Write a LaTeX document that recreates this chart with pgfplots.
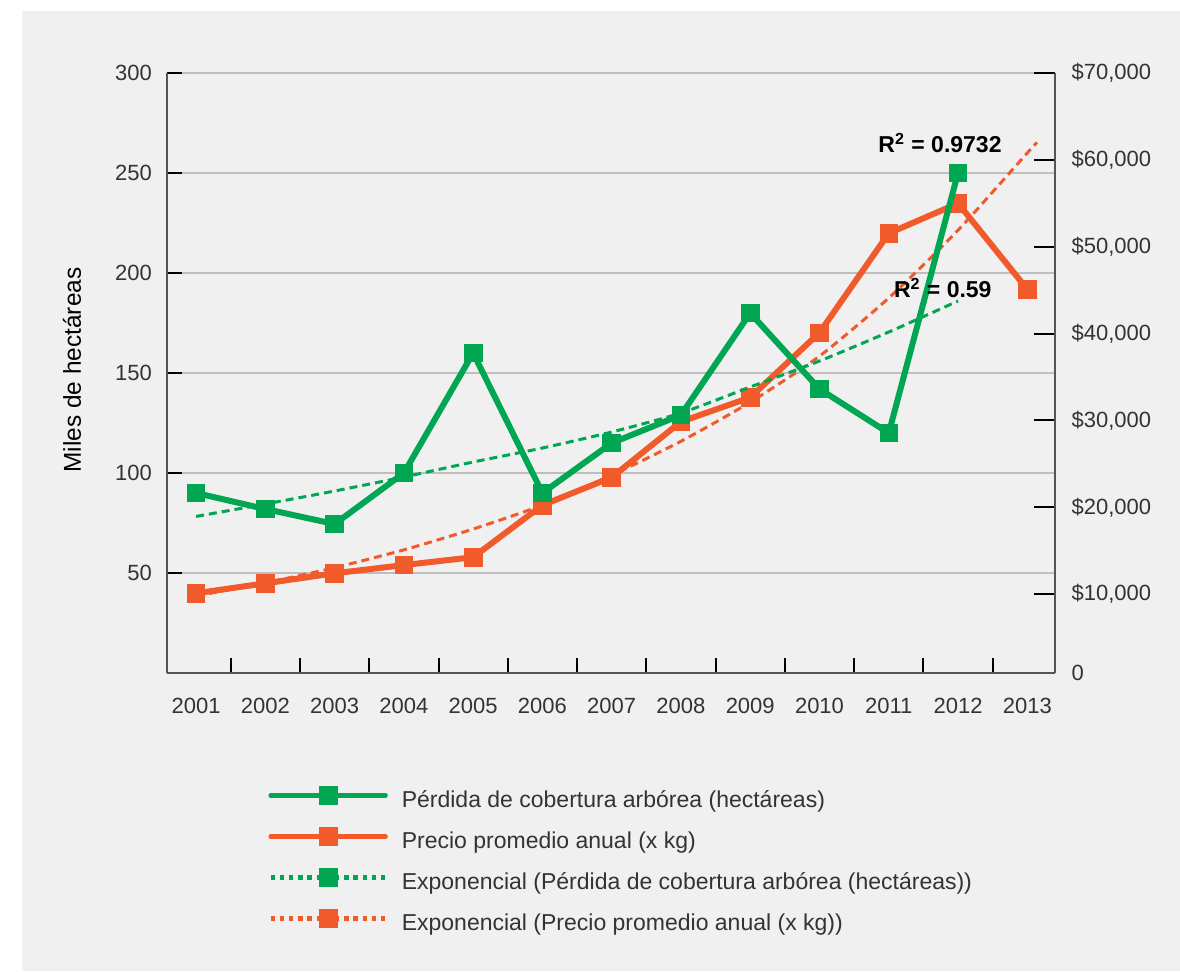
\documentclass[border=0pt]{standalone}
\usepackage{fontspec}
\setmainfont{Liberation Sans}
\usepackage{pgfplots}
\pgfplotsset{compat=1.18}

\definecolor{bg}{HTML}{F0F0F0}
\definecolor{grn}{HTML}{00A651}
\definecolor{org}{HTML}{F15A2B}
\definecolor{gridc}{HTML}{BEBEBE}
\definecolor{axc}{HTML}{555555}
\definecolor{txt}{HTML}{333333}

\pgfplotsset{
  base/.style={
    scale only axis, width=444pt, height=300pt,
    at={(83.5pt,-336.5pt)}, anchor=south west,
    xmin=0.58, xmax=13.4,
    tick label style={font=\fontsize{11}{13}\selectfont, text=txt},
    /pgf/number format/assume math mode=true,
    tick align=inside,
    tick style={black, line width=1pt},
    axis line style={axc, line width=1pt},
  },
  sq/.style={mark=square*, mark size=4.4pt, mark options={solid, line width=0.4pt}},
}

\begin{document}
\begin{tikzpicture}
\fill[white] (0,0) rectangle (590pt,-485.5pt);
\fill[bg] (11pt,-5.5pt) rectangle (590pt,-485.5pt);

% left axis, grid and years
\begin{axis}[base,
    ymin=0, ymax=300,
    axis x line*=bottom, axis y line*=left,
    ytick={50,100,...,300},
    ymajorgrids, grid style={gridc, line width=1pt},
    major tick length=7.5pt,
    yticklabel style={xshift=-4pt},
    xtick={1.5,2.5,...,12.5}, xticklabels={},
    extra x ticks={1,...,13},
    extra x tick labels={2001,2002,2003,2004,2005,2006,2007,2008,2009,2010,2011,2012,2013},
    extra x tick style={major tick length=0pt, xticklabel style={yshift=-8.8pt}},
    ylabel={Miles de hectáreas},
    ylabel style={at={(axis description cs:-0.107,0.505)}, anchor=center,
      font=\fontsize{12.2}{14}\selectfont, text=black},
  ]
  \addplot[draw=none] coordinates {(1,0)};
\end{axis}

% right axis: precio
\begin{axis}[base,
    ymin=921, ymax=70000,
    axis y line*=right, axis x line=none,
    scaled y ticks=false,
    ytick={10000,20000,...,70000},
    yticklabels={{\$10,000},{\$20,000},{\$30,000},{\$40,000},{\$50,000},{\$60,000},{\$70,000}},
    major tick length=10.5pt,
    yticklabel style={xshift=4.8pt},
    extra y ticks={921}, extra y tick labels={0},
    extra y tick style={major tick length=0pt},
  ]
  \addplot[org, line width=1.5pt, dash pattern=on 4pt off 2.5pt, smooth, tension=0.4] coordinates {
    (1,9800) (2,11300) (3,13050) (4,15100) (5,17500) (6,20250) (7,23700)
    (8,27600) (9,32100) (10,37400) (11,44100) (12,51900) (13,60800) (13.14,62000)};
  \addplot[org, line width=3pt, sq] coordinates {
    (1,10100) (2,11250) (3,12400) (4,13350) (5,14250) (6,20250) (7,23450)
    (8,29850) (9,32650) (10,40100) (11,51550) (12,55000) (13,45100)};
\end{axis}

% green series on top, legend
\begin{axis}[base,
    ymin=0, ymax=300, hide axis,
    legend image code/.code={\draw[mark repeat=2,mark phase=2] plot coordinates {(0pt,2.8pt) (28.75pt,2.8pt) (57.5pt,2.8pt)};},
    legend style={draw=none, fill=none, at={(0.107,-0.182)}, anchor=north west,
      legend cell align=left, row sep=7.3pt, column sep=7pt,
      font=\fontsize{11.5}{13}\selectfont, text=txt,
      nodes={inner sep=0pt, text height=9pt, text depth=3pt}},
  ]
  \addplot[grn, line width=1.5pt, dash pattern=on 4pt off 2.5pt, smooth, tension=0.4, forget plot] coordinates {
    (1,78.3) (2,84.5) (3,91) (4,98) (5,105.5) (6,112.5) (7,120.5)
    (8,130) (9,143) (10,156) (11,170.5) (12,186)};
  \addplot[grn, line width=3pt, sq, forget plot] coordinates {
    (1,90) (2,82) (3,74.5) (4,100) (5,160) (6,90) (7,115)
    (8,129) (9,180) (10,142) (11,120) (12,250)};

  \node[font=\bfseries\fontsize{11.5}{13}\selectfont] at (axis cs:11.74,265) {R\textsuperscript{2} = 0.9732};
  \node[font=\bfseries\fontsize{11.5}{13}\selectfont] at (axis cs:11.78,192.5) {R\textsuperscript{2} = 0.59};

  \addlegendimage{grn, line width=2.2pt, line cap=round, sq}
  \addlegendentry{Pérdida de cobertura arbórea (hectáreas)}
  \addlegendimage{org, line width=2.2pt, line cap=round, sq}
  \addlegendentry{Precio promedio anual (x kg)}
  \addlegendimage{grn, line width=2.2pt, dash pattern=on 2.2pt off 2.4pt, sq}
  \addlegendentry{Exponencial (Pérdida de cobertura arbórea (hectáreas))}
  \addlegendimage{org, line width=2.2pt, dash pattern=on 2.2pt off 2.4pt, sq}
  \addlegendentry{Exponencial (Precio promedio anual (x kg))}
\end{axis}

\pgfresetboundingbox
\useasboundingbox (0,0) rectangle (590pt,-485.5pt);
\end{tikzpicture}
\end{document}
